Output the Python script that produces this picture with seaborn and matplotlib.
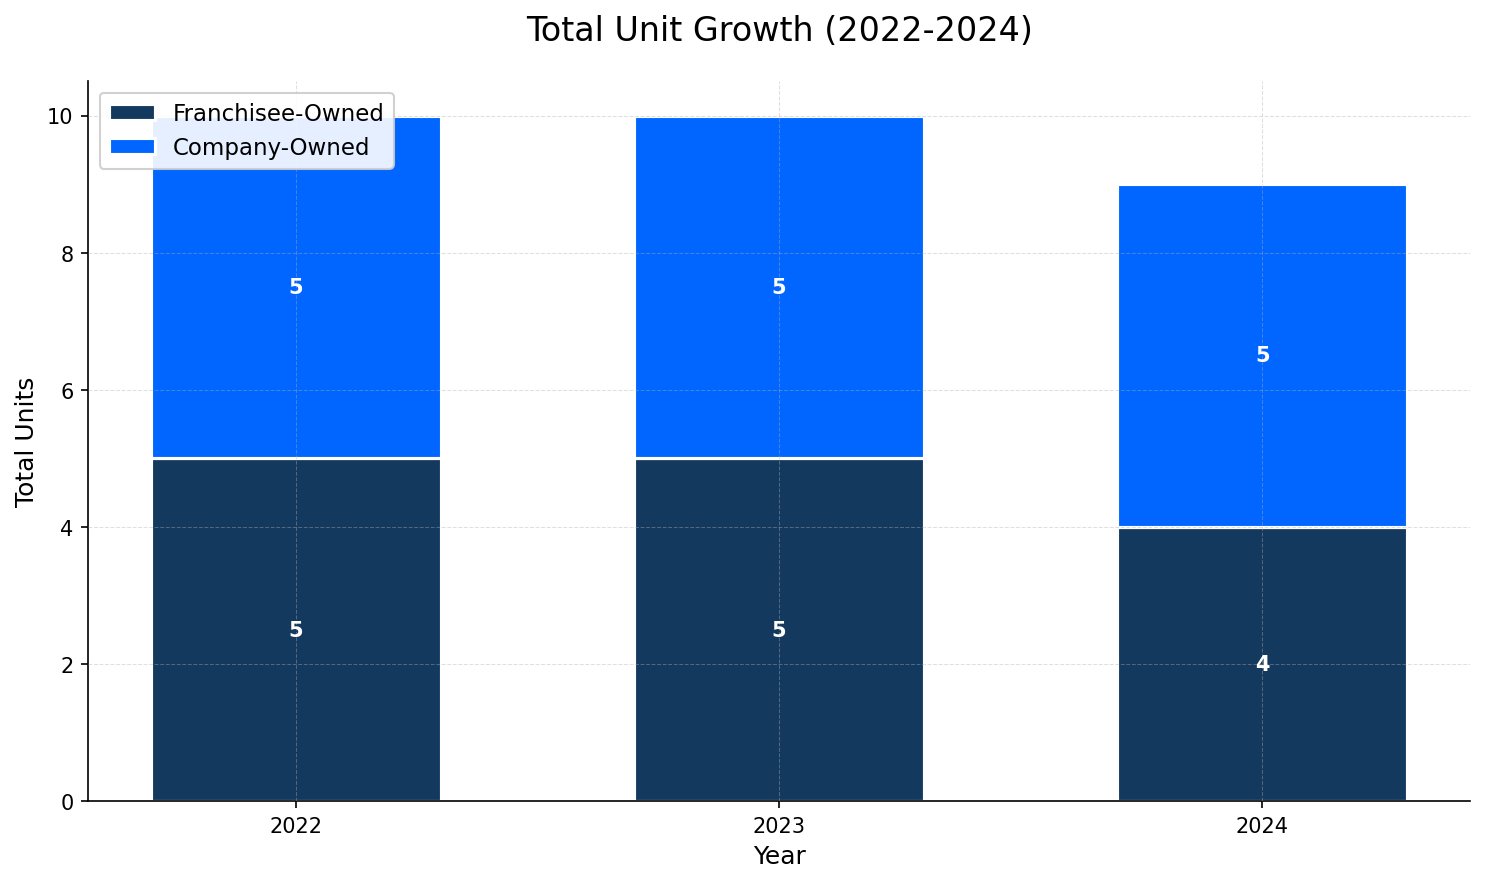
import pandas as pd
import numpy as np
import seaborn as sns
import matplotlib.pyplot as plt

years = ['2022', '2023', '2024']
franchisee = [5, 5, 4]
company = [5, 5, 5]

df = pd.DataFrame({'Year': years, 'Franchisee': franchisee, 'Company': company})

fig, ax = plt.subplots(figsize=(9.9, 5.893), dpi=150)

sns.barplot(x='Year', y='Franchisee', data=df, color='#14395E', width=0.6,
            edgecolor='white', linewidth=1.5, saturation=1, label='Franchisee-Owned', ax=ax)
sns.barplot(x='Year', y='Company', data=df, color='#0066FF', width=0.6, bottom=df['Franchisee'],
            edgecolor='white', linewidth=1.5, saturation=1, label='Company-Owned', ax=ax)

for i in range(len(years)):
    ax.text(i, franchisee[i] / 2, str(franchisee[i]), ha='center', va='center',
            color='white', fontweight='bold', fontsize=10)
    ax.text(i, franchisee[i] + company[i] / 2, str(company[i]), ha='center', va='center',
            color='white', fontweight='bold', fontsize=10)

ax.set_xlim(-0.43, len(years) - 1 + 0.43)
ax.set_title("Total Unit Growth (2022-2024)", fontsize=16, pad=20)
ax.set_xlabel("Year", fontsize=12)
ax.set_ylabel("Total Units", fontsize=12)
ax.grid(True, linestyle='--', linewidth=0.5, alpha=0.4)
ax.set_axisbelow(False)
sns.despine(ax=ax)
ax.legend(loc='upper left', fontsize=11, framealpha=0.9)

plt.subplots_adjust(left=0.0593, right=0.99, bottom=0.0928, top=0.907)
plt.savefig('out.png', dpi=150)
